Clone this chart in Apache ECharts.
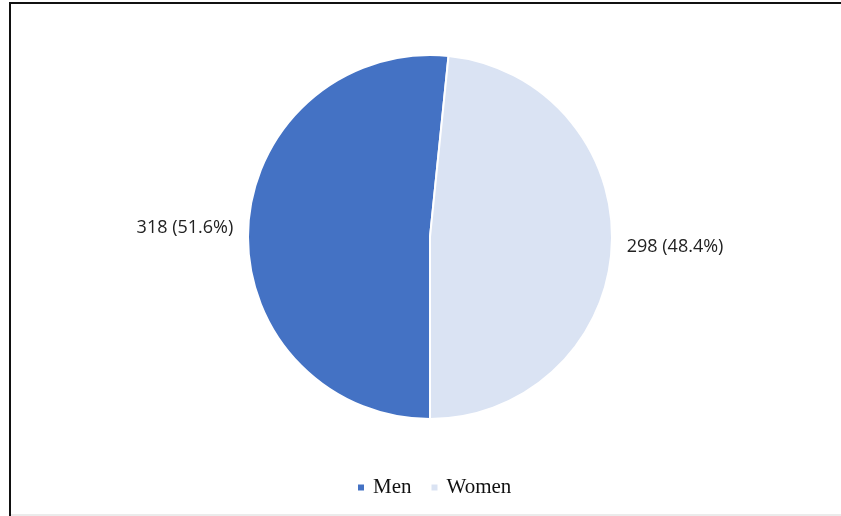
<!DOCTYPE html>
<html>
<head>
<meta charset="utf-8">
<script src="https://cdn.jsdelivr.net/npm/echarts@6/dist/echarts.min.js"></script>
<style>
html,body{margin:0;padding:0;background:#fff;}
#c{width:841px;height:516px;}
</style>
</head>
<body>
<div id="c"></div>
<script>
var categories = ['Men', 'Women'];
var values = [318, 298];
var colors = ['#4472C4', '#DAE3F3'];

var total = values.reduce(function(a, b){ return a + b; }, 0);
var chart = echarts.init(document.getElementById('c'), null, {renderer: 'canvas'});
chart.setOption({
  animation: false,
  backgroundColor: '#ffffff',
  graphic: [
    {type: 'rect', shape: {x: 9, y: 2, width: 832, height: 2}, style: {fill: '#111'}},
    {type: 'rect', shape: {x: 9, y: 2, width: 2, height: 514}, style: {fill: '#111'}},
    {type: 'rect', shape: {x: 11, y: 514, width: 830, height: 2}, style: {fill: '#ebebeb'}}
  ],
  legend: {
    data: categories,
    top: 472,
    left: 351,
    icon: 'rect',
    itemWidth: 8,
    itemHeight: 8,
    itemGap: 18,
    textStyle: {fontFamily: 'Liberation Serif', fontSize: 21, color: '#111', padding: [0, 0, 0, 3]}
  },
  series: [{
    type: 'pie',
    center: [430, 237],
    radius: 182,
    startAngle: -90,
    clockwise: true,
    data: categories.map(function(c, i){
      return {name: c, value: values[i], itemStyle: {color: colors[i]}};
    }),
    itemStyle: {borderColor: '#fff', borderWidth: 2},
    label: {
      show: true,
      position: 'outside',
      formatter: function(p){
        return p.value + ' (' + (p.value / total * 100).toFixed(1) + '%)';
      },
      fontFamily: 'Open Sans',
      fontSize: 18,
      color: '#222'
    },
    labelLine: {show: false, length: 6, length2: 4},
    emphasis: {disabled: true}
  }]
});
</script>
</body>
</html>
